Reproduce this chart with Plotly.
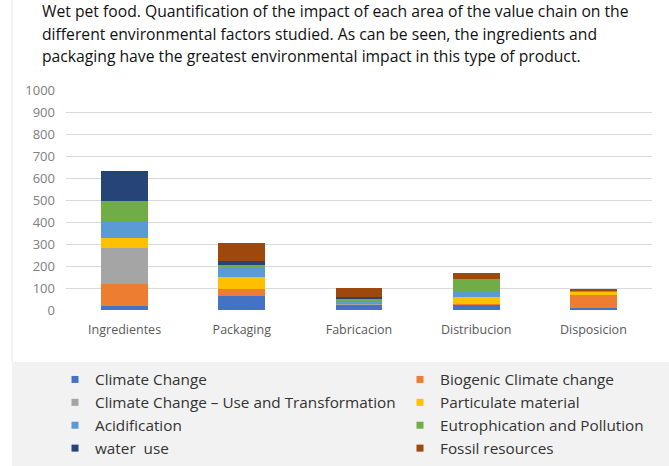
import plotly.graph_objects as go

# Value-chain stages (x categories)
stages = ["Ingredientes", "Packaging", "Fabricacion", "Distribucion", "Disposicion"]

# Impact of each environmental factor per stage (stacked bottom to top)
climate_change = [20, 65, 27, 23, 8]
biogenic_climate = [97, 29, 0, 3, 60]
climate_use_transf = [163, 0, 4, 0, 0]
particulate = [47, 58, 0, 32, 15]
acidification = [78, 37, 8, 30, 2]
eutrophication = [89, 17, 12, 53, 3]
water_use = [136, 17, 6, 0, 1]
fossil_resources = [0, 80, 45, 26, 6]

series_names = [
    "Climate Change", "Biogenic Climate change",
    "Climate Change – Use and Transformation", "Particulate material",
    "Acidification", "Eutrophication and Pollution",
    "water  use", "Fossil resources",
]
series_values = [
    climate_change, biogenic_climate, climate_use_transf, particulate,
    acidification, eutrophication, water_use, fossil_resources,
]
series_colors = ["#4472C4", "#ED7D31", "#A5A5A5", "#FFC000",
                 "#5B9BD5", "#70AD47", "#264478", "#9E480E"]

y_ticks = list(range(0, 1001, 100))

title_lines = [
    "Wet pet food. Quantification of the impact of each area of the value chain on the",
    "different environmental factors studied. As can be seen, the ingredients and",
    "packaging have the greatest environmental impact in this type of product.",
]

W, H = 669, 466
ML, MR, MT, MB = 66, 17, 90, 156
PW, PH = W - ML - MR, H - MT - MB


def px_x(p):
    return (p - ML) / PW


def px_y(p):
    return (H - MB - p) / PH


fig = go.Figure()

for i, (name, vals, col) in enumerate(zip(series_names, series_values, series_colors)):
    fig.add_trace(go.Bar(
        x=stages, y=vals, name=name, marker=dict(color=col, line=dict(width=0)),
        legendgroup=name, showlegend=False,
    ))
    # legend entry with a small square marker, split into two columns
    fig.add_trace(go.Scatter(
        x=[None], y=[None], mode="markers", name=name, legendgroup=name,
        marker=dict(symbol="square", size=7, color=col),
        legend="legend" if i % 2 == 0 else "legend2",
    ))

font_family = "Open Sans, Lato, Arial, sans-serif"

annotations = []
for k, line in enumerate(title_lines):
    annotations.append(dict(
        text=line, xref="paper", yref="paper",
        x=px_x(40), y=px_y(11 + 22.5 * k), xanchor="left", yanchor="middle",
        showarrow=False, font=dict(family=font_family, size=15.7, color="#111111"),
    ))

shapes = [
    # legend panel background
    dict(type="rect", xref="paper", yref="paper", layer="below",
         x0=px_x(12), x1=px_x(W + 5), y0=px_y(362), y1=px_y(H + 5),
         fillcolor="#f2f2f2", line=dict(width=0)),
    # left frame edge
    dict(type="line", xref="paper", yref="paper", layer="below",
         x0=px_x(12), x1=px_x(12), y0=px_y(0), y1=px_y(362),
         line=dict(color="#e3e3e3", width=1)),
]

legend_font = dict(family=font_family, size=15.3, color="#333333")

fig.update_layout(
    width=W, height=H,
    margin=dict(l=ML, r=MR, t=MT, b=MB, autoexpand=False),
    paper_bgcolor="white", plot_bgcolor="white",
    barmode="stack", bargap=0.6,
    annotations=annotations, shapes=shapes,
    legend=dict(x=px_x(55), y=px_y(363), xanchor="left", yanchor="top",
                font=legend_font, bgcolor="rgba(0,0,0,0)", itemwidth=30,
                tracegroupgap=0),
    legend2=dict(x=px_x(400), y=px_y(363), xanchor="left", yanchor="top",
                 font=legend_font, bgcolor="rgba(0,0,0,0)", itemwidth=30,
                 tracegroupgap=0),
    xaxis=dict(showline=False, ticks="", showgrid=False, ticklabelstandoff=10,
               tickfont=dict(family=font_family, size=12.5, color="#595959")),
    yaxis=dict(range=[0, 1000], tickvals=y_ticks, showline=False, zeroline=False,
               gridcolor="#d9d9d9", gridwidth=1, ticks="", ticklabelstandoff=10,
               tickfont=dict(family=font_family, size=13, color="#808080")),
)

fig.write_html("out.html")
